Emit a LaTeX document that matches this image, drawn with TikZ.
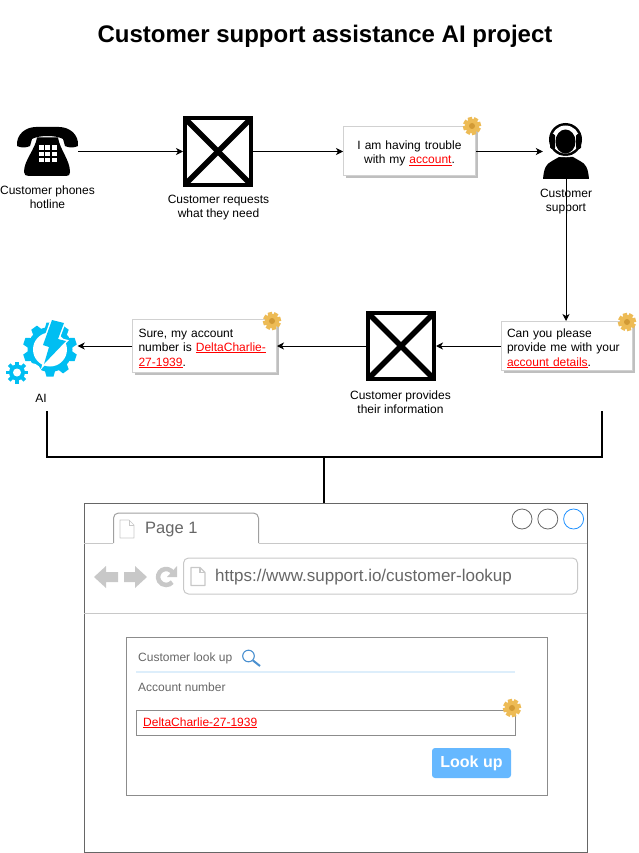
\documentclass[tikz,border=0pt]{standalone}
\usepackage{fontspec}
\setmainfont{Liberation Sans}
\usepackage{xcolor}
\usetikzlibrary{arrows.meta, positioning, shadows, calc}

\definecolor{cogfill}{HTML}{EDBB55}
\definecolor{cogdark}{HTML}{D29A35}
\definecolor{aiblue}{HTML}{00BEF2}
\definecolor{chrome}{HTML}{C8C8C8}
\definecolor{frameline}{HTML}{666666}
\definecolor{lookblue}{HTML}{66B8FF}
\definecolor{glassblue}{HTML}{4A90D0}
\definecolor{ruleblue}{HTML}{DDEEFB}
\definecolor{closeblue}{HTML}{1E90FF}
\newcommand{\redlink}[1]{\leavevmode{\color{red}\setbox0\hbox{#1}\rlap{\rule[-1.5pt]{\wd0}{0.8pt}}\box0}}

\begin{document}
\begin{tikzpicture}[
    x=1pt, y=-1pt,
    label12/.style={font=\fontsize{12}{14}\selectfont, align=center, inner sep=0pt},
    grey12/.style={font=\fontsize{12}{14}\selectfont, text=frameline, anchor=west, inner sep=0pt},
    xbox/.style={rectangle, draw, line width=4pt, minimum size=66pt, inner sep=0pt},
    xline/.style={line width=5.5pt, shorten >=2.8pt, shorten <=2.8pt},
    iconspot/.style={rectangle, inner sep=0pt},
    note/.style={rectangle, draw=black!18, fill=white, line width=1pt, inner xsep=6pt, inner ysep=0pt,
        font=\fontsize{12}{14.3}\selectfont, align=left,
        execute at begin node={\rule{0pt}{13pt}},
        drop shadow={shadow xshift=2.5pt, shadow yshift=-2.5pt, fill=black!25, opacity=1}},
    arrow/.style={-{Stealth[length=7pt, width=7pt, inset=2pt]}, line width=0.9pt},
    bracket/.style={line width=2pt},
    cog/.pic={
        \foreach \ang in {15,60,...,330} {
            \fill[cogfill, rotate=\ang] (-2.2,-9) rectangle (2.2,-5);
        }
        \fill[cogfill] (0,0) circle (7);
        \fill[cogdark] (0,0) circle (3);
    },
    bluecog/.pic={
        \foreach \ang in {0,45,...,315} {
            \fill[aiblue, rotate=\ang] (-1.8,-11) rectangle (1.8,-6);
        }
        \fill[aiblue] (0,0) circle (8);
        \fill[white] (0,0) circle (4);
    },
    pageicon/.pic={
        \draw[chrome, line join=round, pic actions] (0,0) -- (9,0) -- (14,5) -- (14,18) -- (0,18) -- cycle;
        \draw[chrome, pic actions] (9,0) -- (9,5) -- (14,5);
    }
]
\useasboundingbox (0,0) rectangle (638,853);

% Title
\node[font=\fontsize{24}{28}\selectfont\bfseries, inner sep=0pt] (title) at (325,36.5) {Customer support assistance AI project};

% Top row
\node[iconspot, minimum width=61pt, minimum height=50pt] (phone) at (47.5,151.5) {};
\node[xbox] (request) at (218,151.5) {};
\node[note, text width=120pt, minimum height=49pt, align=center] (trouble) at (409.5,151.5) {I am having trouble\\with my \redlink{account}.};
\node[iconspot, minimum width=46pt, minimum height=55pt] (agent) at (566,151.5) {};

% Middle row
\node[note, text width=119pt, minimum height=49pt] (details) at (566.5,346) {Can you please\\provide me with your\\\redlink{account details}.};
\node[xbox] (provide) at (401,346) {};
\node[note, text width=132pt, minimum height=53pt] (number) at (204.5,346) {Sure, my account\\number is \redlink{DeltaCharlie-}\\\redlink{27-1939}.};
\node[iconspot, minimum width=55pt, minimum height=56pt] (ai) at (50,346) {};

% Captions
\node[label12] (phonetext) at (47.5,197) {Customer phones\\hotline};
\node[label12] (requesttext) at (218.5,208) {Customer requests\\what they need};
\node[label12] (agenttext) at (566,201.5) {Customer\\support};
\node[label12] (providetext) at (400.5,402) {Customer provides\\their information};
\node[label12] (aitext) at (41,398) {AI};

% Crosses
\foreach \boxname in {request, provide} {
    \draw[xline] (\boxname.north west) -- (\boxname.south east);
    \draw[xline] (\boxname.north east) -- (\boxname.south west);
}

% Phone
\fill (17,146) .. controls (16,134) and (26,127) .. (36,127) -- (59,127) .. controls (69,127) and (79,134) .. (78,146)
    .. controls (74,148) and (69,148) .. (65,146) -- (63,139) .. controls (56,135) and (39,135) .. (32,139) -- (30,146)
    .. controls (26,148) and (21,148) .. (17,146) -- cycle;
\fill (37,137.5) -- (58,137.5) .. controls (60,150) and (70,160) .. (70,172) .. controls (70,175) and (69,176) .. (66,176)
    -- (29,176) .. controls (26,176) and (24,175) .. (24,172) .. controls (24,160) and (35,150) .. (37,137.5) -- cycle;
\foreach \col in {0,1,2} {
    \foreach \row in {0,1,2} {
        \fill[white] (38.5+6.6*\col,145.5+6.2*\row) rectangle +(5,4.6);
    }
}

% Agent
\fill (543,179) .. controls (544,168) and (546,164) .. (552,161) -- (559,157) -- (573,157) -- (580,161) .. controls (586,164) and (588,168) .. (589,179) -- cycle;
\fill (565.5,139.5) circle (16.5);
\fill[white] (565.5,139.5) circle (14);
\fill (565.5,141.5) ellipse (10 and 12);
\fill[rounded corners=1.5pt] (550,134) rectangle (555,149);
\fill[rounded corners=1.5pt] (576,134) rectangle (581,149);
\draw[white, line width=1.3pt] (551,150) .. controls (553,156) and (559,157) .. (570,156.5);

% AI icon
\foreach \ang in {0,36,...,324} {
    \fill[aiblue, shift={(50,349.5)}, rotate=\ang] (-3.5,-27) -- (3.5,-27) -- (5.5,-20) -- (-5.5,-20) -- cycle;
}
\fill[aiblue] (50,349.5) circle (22.5);
\fill[white] (50,349.5) circle (17);
\fill[white] (31,374) circle (11);
\filldraw[aiblue, draw=white, line width=3pt, line join=miter] (52,320) -- (64,323) -- (58,339) -- (66,341) -- (44,364) -- (49,347) -- (43,345) -- cycle;
\fill[aiblue] (52,320) -- (64,323) -- (58,339) -- (66,341) -- (44,364) -- (49,347) -- (43,345) -- cycle;
\pic at (17,372.5) {bluecog};

% Little cogs on the notes
\pic at (472,126) {cog};
\pic at (627,322) {cog};
\pic at (272,321) {cog};

% Arrows
\draw[arrow] (phone.east) -- (request.west);
\draw[arrow] (request.east) -- (trouble.west);
\draw[arrow] (trouble.east) -- (agent.west);
\draw[arrow] (agent.south) -- (agent.south |- details.north);
\draw[arrow] (details.west) -- (provide.east);
\draw[arrow] (provide.west) -- (number.east);
\draw[arrow] (number.west) -- (ai.east);

% Bracket
\coordinate (leftend) at (47,411);
\coordinate (rightend) at (602,411);
\coordinate (joint) at (324,457);
\draw[bracket] (leftend) |- (joint) -| (rightend);

% Browser
\node[rectangle, draw=frameline, line width=1pt, minimum width=503pt, minimum height=349pt, inner sep=0pt] (browser) at (335.5,677.5) {};
\draw[bracket] (joint) -- (joint |- browser.north);
\draw[chrome, line width=1pt] (84,543) -- (113,543);
\draw[chrome, line width=1pt] (259,543) -- (587,543);
\draw[chrome, line width=1pt] (84,613) -- (587,613);
\draw[chrome!80!black, line width=1pt, rounded corners=5pt] (113.5,543) -- (113.5,513) -- (258.5,513) -- (258.5,543);
\pic[line width=0.7pt] at (120,520) {pageicon};
\node[font=\fontsize{16.5}{18}\selectfont, text=frameline, anchor=west, inner sep=0pt] (pagetext) at (145,530) {Page 1};
\node[circle, draw=frameline, line width=0.8pt, minimum size=20pt, inner sep=0pt] (btnone) at (522,519) {};
\node[circle, draw=frameline, line width=0.8pt, minimum size=20pt, inner sep=0pt, right=5pt of btnone] (btntwo) {};
\node[circle, draw=closeblue, line width=0.8pt, minimum size=20pt, inner sep=0pt, right=5pt of btntwo] (btnthree) {};
\fill[chrome] (94,577) -- (106,566) -- (106,572) -- (118,572) -- (118,582) -- (106,582) -- (106,588) -- cycle;
\fill[chrome] (147,577) -- (135,566) -- (135,572) -- (124,572) -- (124,582) -- (135,582) -- (135,588) -- cycle;
\draw[chrome, line width=4.5pt] (173,573) arc[start angle=-30, end angle=-320, radius=8];
\fill[chrome] (177,566) -- (177,577) -- (167,577) -- cycle;
\node[rectangle, draw=chrome, line width=1pt, rounded corners=5pt, minimum width=394pt, minimum height=36pt, inner sep=0pt] (address) at (380.5,576) {};
\pic[line width=1.2pt] at (191,567.5) {pageicon};
\node[font=\fontsize{17}{19}\selectfont, text=frameline, anchor=west, inner sep=0pt] (urltext) at (215,577.5) {https://www.support.io/customer-lookup};

% Form
\node[rectangle, draw=black!45, line width=0.8pt, minimum width=421pt, minimum height=158pt, inner sep=0pt] (form) at (336.5,716) {};
\node[grey12] (looktext) at (138,658) {Customer look up};
\draw[glassblue, line width=1.1pt] (248.5,656) circle (5.8);
\draw[glassblue, line width=2pt] (253,660.5) -- (260,666);
\draw[ruleblue, line width=1.5pt] (136,672) -- (515,672);
\node[grey12] (accounttext) at (138,687.5) {Account number};
\node[rectangle, draw=black!45, line width=0.8pt, minimum width=379pt, minimum height=25pt, inner sep=0pt] (field) at (325.5,722.5) {};
\node[font=\fontsize{12}{14}\selectfont, anchor=west, inner sep=0pt] (fieldtext) at (143,723) {\redlink{DeltaCharlie-27-1939}};
\pic at (512,708) {cog};
\node[rectangle, fill=lookblue, rounded corners=3pt, minimum width=79pt, minimum height=30pt, inner sep=0pt,
    text=white, font=\fontsize{16}{18}\selectfont\bfseries] (lookup) at (471.5,763) {\raisebox{-1pt}{Look up}};

\end{tikzpicture}
\end{document}
